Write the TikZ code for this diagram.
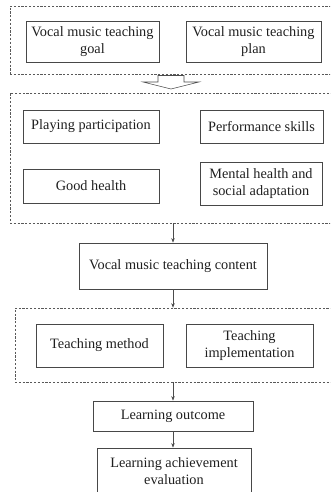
\documentclass[tikz,border=0pt]{standalone}
\usepackage{fontspec}
\setmainfont{Liberation Serif}
\usetikzlibrary{arrows.meta}
\begin{document}
\begin{tikzpicture}[x=1pt,y=-1pt,
  box/.style={draw=black!72, line width=0.8pt, align=center, inner sep=0pt,
    font=\fontsize{14.3}{17}\selectfont, text=black!88},
  frame/.style={draw=black!65, line width=0.6pt, dash pattern=on 2.2pt off 1.6pt, inner sep=0pt},
  arr/.style={draw=black!70, line width=0.6pt, -{Stealth[length=4.5pt,width=3.5pt]}}]
\useasboundingbox (0,0) rectangle (330,492);
\clip (0,0) rectangle (330,492);
% dashed frames
\node[frame, minimum width=330pt, minimum height=68pt] (f1) at (175,40) {};
\node[frame, minimum width=330pt, minimum height=130pt] (f2) at (175,158) {};
\node[frame, minimum width=325pt, minimum height=74pt] (f3) at (177.5,345) {};
% boxes
\node[box, minimum width=133pt, minimum height=41pt] (goal) at (92.5,41.5) {Vocal music teaching\\goal};
\node[box, minimum width=135pt, minimum height=41pt] (plan) at (253.5,41.5) {Vocal music teaching\\plan};
\node[box, minimum width=136pt, minimum height=33pt] (play) at (91,126.5) {Playing participation};
\node[box, minimum width=123pt, minimum height=33pt] (perf) at (261.5,126.5) {Performance skills};
\node[box, minimum width=136pt, minimum height=34pt] (good) at (91,186) {Good health};
\node[box, minimum width=122pt, minimum height=43pt] (mental) at (261,183.5) {Mental health and\\social adaptation};
\node[box, minimum width=188pt, minimum height=46pt] (content) at (173,266) {Vocal music teaching content};
\node[box, minimum width=127pt, minimum height=43pt] (method) at (99.5,345.5) {Teaching method};
\node[box, minimum width=127pt, minimum height=43pt] (impl) at (249.5,345.5) {Teaching\\implementation};
\node[box, minimum width=160pt, minimum height=30pt] (outcome) at (173,416) {Learning outcome};
\node[box, minimum width=154pt, minimum height=47pt] (eval) at (174,471.5) {Learning achievement\\evaluation};
% hollow arrow
\coordinate (ha) at (171,75.5);
\draw[draw=black!70, line width=0.6pt, fill=white]
  ([xshift=-13pt]ha) -- ([xshift=-13pt,yshift=-6.5pt]ha) -- ([xshift=-28pt,yshift=-6.5pt]ha)
  -- ([yshift=-13.5pt]ha) -- ([xshift=28pt,yshift=-6.5pt]ha) -- ([xshift=13pt,yshift=-6.5pt]ha)
  -- ([xshift=13pt]ha) -- cycle;
% arrows
\draw[arr] (content.north |- f2.south) -- (content.north);
\draw[arr] (content.south) -- (content.south |- f3.north);
\draw[arr] (outcome.north |- f3.south) -- (outcome.north);
\draw[arr] (outcome.south) -- (outcome.south |- eval.north);
\end{tikzpicture}
\end{document}
